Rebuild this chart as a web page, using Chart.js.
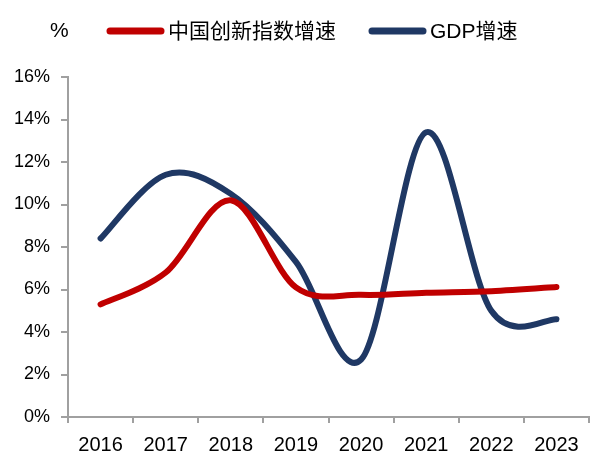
<!DOCTYPE html>
<html>
<head>
<meta charset="utf-8">
<script src="https://cdn.jsdelivr.net/npm/chart.js@4.4.1/dist/chart.umd.min.js"></script>
<style>
  html, body { margin: 0; padding: 0; background: #ffffff; }
  #wrap { width: 592px; height: 458px; position: relative; }
</style>
</head>
<body>
<div id="wrap"><canvas id="chart" width="592" height="458"></canvas></div>
<script>
// ---- data ----
const years = ['2016', '2017', '2018', '2019', '2020', '2021', '2022', '2023'];
const innovationIndexGrowth = [5.3, 6.8, 10.2, 6.1, 5.75, 5.85, 5.92, 6.12];
const gdpGrowth = [8.4, 11.4, 10.5, 7.3, 2.7, 13.4, 5.0, 4.6];
const seriesNames = ['中国创新指数增速', 'GDP增速'];
const yTickValues = [0, 2, 4, 6, 8, 10, 12, 14, 16];
const unitLabel = '%';

const RED = '#C00000';
const NAVY = '#1F3864';
const AXIS = '#A0A0A0';
const LATIN = '"Liberation Sans", Arial, "Noto Sans CJK SC", sans-serif';

// Excel-style smoothing: uniform Catmull-Rom control points computed
// from the point positions that Chart.js placed on its own scales.
const excelSmoothing = {
  id: 'excelSmoothing',
  beforeDatasetDraw(chart, args) {
    const meta = args.meta;
    const line = meta.dataset;
    if (!line || !line.updateControlPoints) return;
    line.updateControlPoints(chart.chartArea, meta.iScale.axis);
    const pts = meta.data;
    const n = pts.length;
    for (let i = 0; i < n; i++) {
      const p = pts[i];
      const prev = pts[Math.max(i - 1, 0)];
      const next = pts[Math.min(i + 1, n - 1)];
      const dx = (next.x - prev.x) / 6;
      const dy = (next.y - prev.y) / 6;
      p.cp1x = p.x - dx; p.cp1y = p.y - dy;
      p.cp2x = p.x + dx; p.cp2y = p.y + dy;
    }
    line._path = undefined;
  }
};

const legendPlugin = {
  id: 'topLegend',
  afterDraw(chart) {
    const ctx = chart.ctx;
    const y = 31;
    const slots = [{ x: 110, len: 51 }, { x: 372, len: 51 }];
    ctx.save();
    ctx.font = '21px ' + LATIN;
    ctx.fillStyle = '#000000';
    ctx.textBaseline = 'middle';
    ctx.textAlign = 'left';
    ctx.fillText(unitLabel, 50, y);
    chart.data.datasets.forEach((ds, i) => {
      const s = slots[i];
      ctx.strokeStyle = ds.borderColor;
      ctx.lineWidth = 7;
      ctx.lineCap = 'round';
      ctx.beginPath();
      ctx.moveTo(s.x, y);
      ctx.lineTo(s.x + s.len, y);
      ctx.stroke();
      ctx.fillText(ds.label, s.x + s.len + 7, y + 1);
    });
    ctx.restore();
  }
};

new Chart(document.getElementById('chart'), {
  type: 'line',
  data: {
    labels: years,
    datasets: [
      {
        label: seriesNames[0],
        data: innovationIndexGrowth,
        borderColor: RED,
        backgroundColor: RED,
        borderWidth: 6,
        borderCapStyle: 'round',
        tension: 0.4,
        pointRadius: 0,
        pointHoverRadius: 0,
        fill: false
      },
      {
        label: seriesNames[1],
        data: gdpGrowth,
        borderColor: NAVY,
        backgroundColor: NAVY,
        borderWidth: 6,
        borderCapStyle: 'round',
        tension: 0.4,
        pointRadius: 0,
        pointHoverRadius: 0,
        fill: false
      }
    ]
  },
  options: {
    responsive: false,
    animation: false,
    devicePixelRatio: 1,
    layout: { padding: { top: 77, left: 3, right: 3, bottom: 0 } },
    plugins: {
      legend: { display: false },
      tooltip: { enabled: false },
      title: { display: false }
    },
    scales: {
      x: {
        type: 'category',
        offset: true,
        afterFit(scale) { scale.height = 41; },
        grid: {
          offset: true,
          drawOnChartArea: false,
          drawTicks: true,
          tickLength: 6,
          color: AXIS,
          lineWidth: 2
        },
        border: { color: AXIS, width: 2 },
        ticks: {
          color: '#000000',
          padding: 10,
          maxRotation: 0,
          autoSkip: false,
          font: { family: LATIN, size: 20 }
        }
      },
      y: {
        min: 0,
        max: 16,
        afterBuildTicks(scale) {
          scale.ticks = yTickValues.map(v => ({ value: v }));
        },
        grid: {
          drawOnChartArea: false,
          drawTicks: true,
          tickLength: 7,
          color: AXIS,
          lineWidth: 2
        },
        border: { color: AXIS, width: 2 },
        ticks: {
          color: '#000000',
          padding: 11,
          font: { family: LATIN, size: 18 },
          callback: v => v + '%'
        }
      }
    }
  },
  plugins: [excelSmoothing, legendPlugin]
});
</script>
</body>
</html>
